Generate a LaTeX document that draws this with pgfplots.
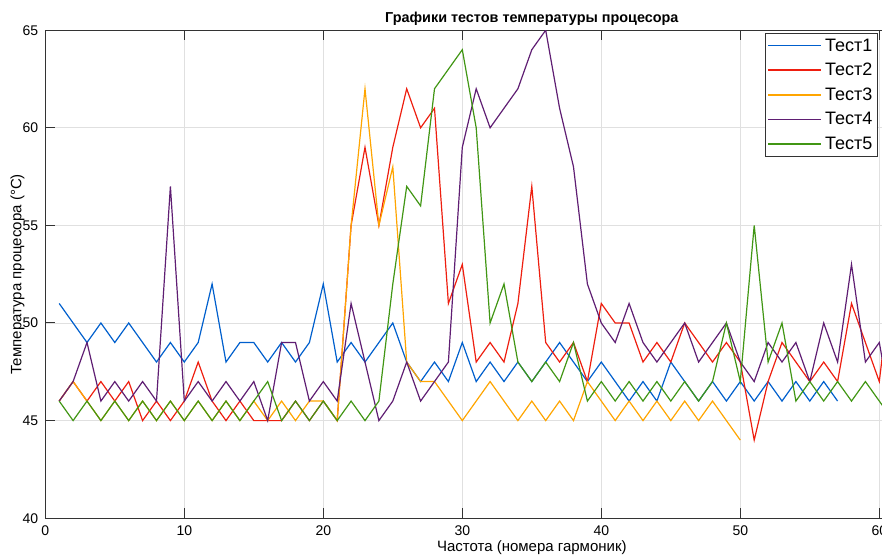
\documentclass[border=0pt]{standalone}
\usepackage{fontspec}
\setmainfont{Liberation Sans}
\usepackage{pgfplots}
\pgfplotsset{compat=1.18}
\definecolor{cA}{RGB}{0,95,205}
\definecolor{cB}{RGB}{238,30,15}
\definecolor{cC}{RGB}{255,165,0}
\definecolor{cD}{RGB}{95,30,115}
\definecolor{cE}{RGB}{65,150,20}
\begin{document}
\begin{tikzpicture}
\path[use as bounding box] (-22.65pt,-19.4pt) rectangle (418.35pt,259.1pt);
\clip (-22.65pt,-19.4pt) rectangle (418.35pt,259.1pt);
\begin{axis}[
  at={(0pt,0pt)}, anchor=south west,
  scale only axis, width=486.5pt, height=244pt,
  xmin=0, xmax=70, ymin=40, ymax=65,
  xtick={0,10,...,70}, ytick={40,45,...,65},
  grid=major, major grid style={black!12, line width=0.4pt},
  axis line style={black!80, line width=0.5pt},
  tick style={black!80, line width=0.5pt},
  tick align=inside, major tick length=5pt,
  xtick pos=both, ytick pos=left,
  tick label style={font=\fontsize{7}{8}\selectfont},
  /pgf/number format/assume math mode=true,
  title={Графики тестов температуры процесора},
  title style={font=\bfseries\fontsize{7.2}{8}\selectfont, yshift=-7pt},
  xlabel={Частота (номера гармоник)},
  ylabel={Температура процесора (°C)},
  label style={font=\fontsize{7.5}{9}\selectfont},
  xlabel style={yshift=4pt},
  ylabel style={at={(axis description cs:-0.0285,0.5)}, anchor=center},
  legend style={at={(axis cs:51.78,64.88)}, anchor=north west,
    draw=black!80, line width=0.5pt, fill=white,
    font=\fontsize{9}{10}\selectfont, inner sep=1pt, row sep=1.8pt,
    nodes={inner sep=1.5pt, text height=6.5pt, text depth=1pt}},
  legend cell align=left,
  legend image code/.code={\draw[#1, line width=0.8pt] (0pt,0pt) -- (26.5pt,0pt);},
]
\addplot[cA, line width=0.6pt] coordinates {
(1,51)(2,50)(3,49)(4,50)(5,49)(6,50)(7,49)(8,48)(9,49)(10,48)
(11,49)(12,52)(13,48)(14,49)(15,49)(16,48)(17,49)(18,48)(19,49)(20,52)
(21,48)(22,49)(23,48)(24,49)(25,50)(26,48)(27,47)(28,48)(29,47)(30,49)
(31,47)(32,48)(33,47)(34,48)(35,47)(36,48)(37,49)(38,48)(39,47)(40,48)
(41,47)(42,46)(43,47)(44,46)(45,48)(46,47)(47,46)(48,47)(49,46)(50,47)
(51,46)(52,47)(53,46)(54,47)(55,46)(56,47)(57,46)};
\addlegendentry{Тест1}
\addplot[cB, line width=0.6pt] coordinates {
(1,46)(2,47)(3,46)(4,47)(5,46)(6,47)(7,45)(8,46)(9,45)(10,46)
(11,48)(12,46)(13,45)(14,46)(15,45)(16,45)(17,45)(18,46)(19,45)(20,46)
(21,45)(22,55)(23,59)(24,55)(25,59)(26,62)(27,60)(28,61)(29,51)(30,53)
(31,48)(32,49)(33,48)(34,51)(35,57)(36,49)(37,48)(38,49)(39,47)(40,51)
(41,50)(42,50)(43,48)(44,49)(45,48)(46,50)(47,49)(48,48)(49,49)(50,48)
(51,44)(52,47)(53,49)(54,48)(55,47)(56,48)(57,47)(58,51)(59,49)(60,47)
(61,53)};
\addlegendentry{Тест2}
\addplot[cC, line width=0.6pt] coordinates {
(1,46)(2,47)(3,46)(4,45)(5,46)(6,45)(7,46)(8,45)(9,46)(10,45)
(11,46)(12,45)(13,46)(14,45)(15,46)(16,45)(17,46)(18,45)(19,46)(20,46)
(21,45)(22,55)(23,62)(24,55)(25,58)(26,48)(27,47)(28,47)(29,46)(30,45)
(31,46)(32,47)(33,46)(34,45)(35,46)(36,45)(37,46)(38,45)(39,47)(40,46)
(41,45)(42,46)(43,45)(44,46)(45,45)(46,46)(47,45)(48,46)(49,45)(50,44)};
\addlegendentry{Тест3}
\addplot[cD, line width=0.6pt] coordinates {
(1,46)(2,47)(3,49)(4,46)(5,47)(6,46)(7,47)(8,46)(9,57)(10,46)
(11,47)(12,46)(13,47)(14,46)(15,47)(16,45)(17,49)(18,49)(19,46)(20,47)
(21,46)(22,51)(23,48)(24,45)(25,46)(26,48)(27,46)(28,47)(29,48)(30,59)
(31,62)(32,60)(33,61)(34,62)(35,64)(36,65)(37,61)(38,58)(39,52)(40,50)
(41,49)(42,51)(43,49)(44,48)(45,49)(46,50)(47,48)(48,49)(49,50)(50,48)
(51,47)(52,49)(53,48)(54,49)(55,47)(56,50)(57,48)(58,53)(59,48)(60,49)
(61,45)};
\addlegendentry{Тест4}
\addplot[cE, line width=0.6pt] coordinates {
(1,46)(2,45)(3,46)(4,45)(5,46)(6,45)(7,46)(8,45)(9,46)(10,45)
(11,46)(12,45)(13,46)(14,45)(15,46)(16,47)(17,45)(18,46)(19,45)(20,46)
(21,45)(22,46)(23,45)(24,46)(25,52)(26,57)(27,56)(28,62)(29,63)(30,64)
(31,60)(32,50)(33,52)(34,48)(35,47)(36,48)(37,47)(38,49)(39,46)(40,47)
(41,46)(42,47)(43,46)(44,47)(45,46)(46,47)(47,46)(48,47)(49,50)(50,47)
(51,55)(52,48)(53,50)(54,46)(55,47)(56,46)(57,47)(58,46)(59,47)(60,46)
(61,45)};
\addlegendentry{Тест5}
\end{axis}
\end{tikzpicture}
\end{document}
